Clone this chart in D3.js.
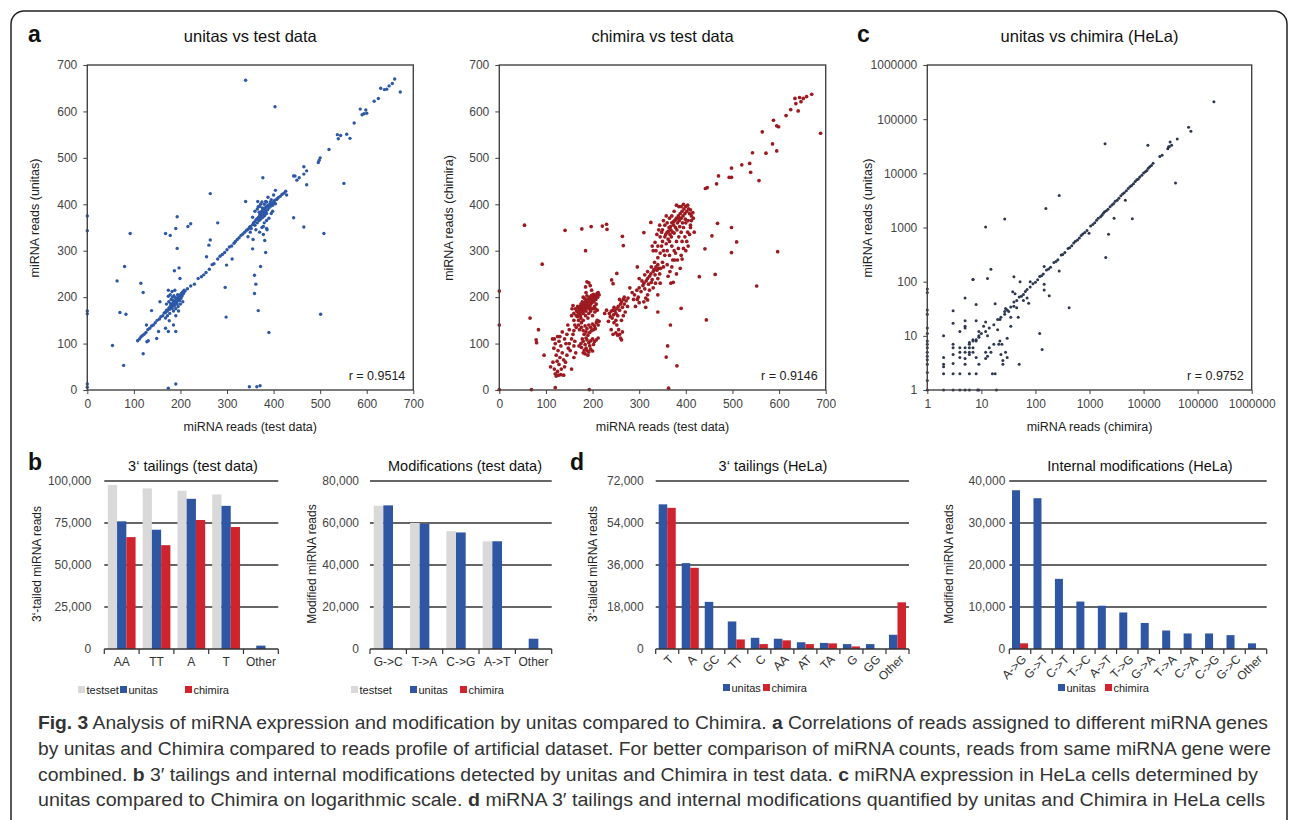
<!DOCTYPE html>
<html>
<head>
<meta charset="utf-8">
<script src="https://cdn.jsdelivr.net/npm/d3@7"></script>
<style>
body { margin: 0; background: #fff; }
text { font-family: "Liberation Sans", Arial, Helvetica, sans-serif; }
</style>
</head>
<body>
<svg id="fig" width="1292" height="820"></svg>
<script>
// ---- data ----
// panel a, left: [test data reads, unitas reads]
var unitasVsTest = [
  [340,667],[403,610],[660,670],[672,642],[655,660],[648,655],[643,648],[638,647],[630,650],[625,628],[616,622],
  [586,605],[594,595],[598,603],[590,593],[600,596],[573,575],[537,550],[539,541],[544,548],[557,551],[564,542],
  [519,518],[500,500],[496,490],[498,495],[443,461],[446,461],[450,452],[455,457],[465,481],[465,465],[471,472],
  [471,442],[551,445],[443,371],[465,351],[508,337],[501,163],[390,124],[355,304],[356,324],[359,247],[362,228],
  [359,208],[367,171],[372,266],[383,296],[381,322],[378,352],[296,221],[298,157],[340,406],[366,406],[377,457],
  [264,423],[280,360],[264,323],[261,312],[256,287],[311,282],[299,269],[193,373],[190,348],[178,333],[168,337],
  [193,305],[216,352],[222,358],[92,337],[80,266],[64,235],[70,167],[83,163],[54,96],[78,53],[120,78],[115,230],
  [120,210],[0,375],[0,343],[0,170],[0,164],[0,13],[0,6],[174,4],[190,13],[348,7],[364,7],[371,9],[174,126],
  [190,126],[176,149],[185,140],[153,126],[131,106],[128,104],[149,111],[168,133],[174,202],[187,257],[197,263],
  [174,215],[199,240],[138,171],[156,190],[127,140],
  [108,106],[112,110],[115,114],[118,117],[122,120],[126,124],[130,130],[134,133],[138,138],[142,140],[146,145],
  [150,150],[155,153],[158,158],[162,160],[165,166],[168,167],[170,172],[172,170],[175,176],[177,174],[178,180],
  [180,178],[181,183],[183,181],[184,186],[185,188],[186,184],[187,190],[188,186],[189,192],[190,189],[191,195],
  [192,188],[193,198],[194,193],[195,196],[196,200],[197,194],[198,203],[199,199],[200,205],[201,197],[202,208],
  [203,202],[204,210],[205,206],[206,212],[207,209],[208,215],[210,213],[175,190],[180,195],[183,200],[185,170],
  [190,175],[195,180],[178,205],[182,212],[188,215],[200,185],[205,190],[170,185],[172,160],[190,160],[196,170],
  [186,203],[177,165],[168,155],[182,176],[187,181],[193,185],[198,192],[179,186],[184,193],[189,199],[194,205],
  [215,218],[222,224],[230,228],[238,240],[245,244],[250,248],[255,253],[262,260],[268,270],[272,272],[280,282],
  [285,288],[290,292],[295,296],[300,302],[305,308],[310,310],[315,316],[318,320],[322,324],[326,328],[330,333],
  [334,336],[338,340],[342,344],[345,346],[348,350],[350,352],[352,348],[355,356],[357,360],[359,362],[360,355],
  [362,366],[364,368],[365,360],[366,370],[368,372],[369,365],[370,375],[371,378],[372,368],[373,380],[374,384],
  [375,377],[376,386],[377,372],[378,388],[379,382],[380,390],[381,376],[382,392],[383,385],[384,394],[385,380],
  [386,396],[387,388],[388,398],[390,392],[392,400],[394,396],[396,402],[398,398],[400,405],[402,408],[404,401],
  [406,410],[408,412],[410,414],[414,417],[418,421],[422,424],[426,428],[428,420],[365,390],[370,395],[375,405],
  [380,400],[385,405],[395,410],[360,385],[375,350],[380,360],[385,365],[390,370],[395,380],[398,385],[370,340],
  [362,345],[355,372],[350,340],[345,330],[385,348],[378,335],[386,345],[393,405],[400,420],[404,430],[388,415],
  [383,406],[372,400],[367,395],[376,392],[381,384],[369,383],[374,371],[379,378]
];

// panel a, middle: [test data reads, chimira reads]
var chimiraVsTest = [
  [670,637],[659,632],[652,628],[644,630],[634,628],[647,621],[636,617],[641,601],[625,604],[615,591],[689,553],
  [588,581],[595,569],[599,567],[564,556],[586,530],[595,515],[572,510],[543,511],[520,485],[537,488],[539,469],
  [557,451],[498,478],[493,458],[498,458],[470,461],[466,444],[446,436],[442,434],[468,359],[456,332],[498,350],
  [509,319],[498,296],[597,298],[441,304],[429,244],[463,249],[552,224],[444,151],[390,176],[367,140],[361,95],
  [358,71],[381,52],[363,4],[54,355],[92,271],[141,344],[177,347],[197,352],[185,300],[221,353],[230,357],
  [231,346],[264,331],[266,311],[241,237],[244,229],[252,251],[0,213],[0,140],[0,1],[69,1],[120,5],[193,1],
  [66,155],[84,130],[79,108],[80,102],[96,75],[325,361],[310,339],[296,265],[318,194],[314,178],[340,168],
  [165,160],[168,158],[170,163],[172,165],[174,160],[176,168],[178,170],[180,165],[182,172],[184,175],[186,170],
  [188,178],[190,180],[192,175],[194,183],[196,185],[198,188],[200,192],[202,195],[204,198],[206,202],[208,205],
  [210,208],[212,210],[200,200],[196,195],[192,190],[188,186],[184,182],[180,178],[176,174],[172,172],[168,168],
  [166,170],[170,176],[174,180],[178,184],[182,188],[186,192],[190,196],[194,200],[198,204],[202,206],[192,165],
  [196,170],[200,175],[204,180],[208,185],[185,160],[175,155],[170,150],[180,150],[190,155],[200,160],[205,168],
  [210,172],[178,190],[183,197],[188,203],[175,185],[180,200],[186,210],[188,233],[192,231],[185,222],[195,225],
  [168,180],[163,175],[160,165],[198,215],[203,190],[207,195],[211,200],[214,205],[196,177],[206,175],
  [172,130],[176,135],[180,128],[184,138],[188,132],[192,140],[196,135],[200,142],[204,138],[208,145],[212,140],
  [182,120],[186,125],[190,118],[194,124],[198,128],[202,130],[206,132],[176,145],[170,140],[165,135],[160,128],
  [214,148],[210,150],[175,100],[180,105],[184,98],[188,108],[192,102],[196,106],[200,110],[204,104],[208,108],
  [212,112],[186,112],[178,110],[171,95],[194,95],[202,98],[180,80],[184,78],[188,85],[192,82],[196,88],
  [200,84],[186,90],[176,92],[190,75],[182,86],
  [110,50],[115,60],[118,45],[120,35],[122,30],[125,40],[128,55],[130,70],[120,100],[118,110],[125,115],
  [128,105],[132,95],[135,80],[138,65],[140,50],[142,60],[145,75],[148,90],[150,100],[152,85],[155,110],
  [158,120],[160,95],[162,105],[145,120],[140,110],[135,125],[130,115],[126,85],[122,75],[114,110],[117,90],
  [124,62],[133,45],[138,32],[155,45],[160,70],[164,80],[150,130],[147,140],[143,100],[127,32],[132,33],
  [160,150],[155,160],[162,140],[156,175],[158,182],
  [242,155],[245,162],[248,170],[250,165],[252,175],[255,180],[258,172],[260,185],[262,190],[264,178],[266,195],
  [268,200],[258,195],[254,160],[250,150],[246,145],[252,140],[256,130],[258,120],[260,112],[262,108],[264,125],
  [262,150],[266,160],[270,168],[244,172],[240,170],[236,165],[238,158],[246,178],[240,130],[244,120],[254,118],
  [250,123],[234,148],[230,172],[226,165],[268,185],[272,192],[275,180],
  [285,210],[290,205],[295,215],[298,200],[300,220],[304,212],[308,225],[310,230],[312,218],[315,235],[318,240],
  [320,228],[322,245],[325,250],[328,238],[330,255],[332,260],[334,248],[336,265],[338,258],[340,270],[342,262],
  [326,232],[322,215],[318,205],[314,198],[310,190],[330,220],[335,230],[340,240],[344,250],[306,235],[312,248],
  [318,255],[326,265],[333,275],[300,240],[296,195],[288,195],[280,220],[276,198],[292,180],[300,188],[345,230],
  [340,205],
  [340,285],[345,295],[348,310],[350,320],[352,300],[355,330],[358,315],[360,340],[362,325],[364,350],[366,335],
  [368,345],[370,360],[372,340],[374,355],[376,365],[378,350],[380,370],[382,360],[384,375],[386,365],[388,380],
  [390,370],[392,385],[394,375],[396,390],[398,380],[400,395],[402,385],[404,398],[406,390],[408,380],[410,388],
  [412,375],[415,382],[350,345],[355,355],[360,360],[345,330],[348,340],[365,320],[370,310],[375,300],[380,320],
  [385,330],[390,340],[395,350],[400,360],[405,365],[410,355],[360,300],[355,290],[350,275],[346,262],[352,265],
  [365,290],[372,280],[378,295],[384,305],[392,320],[398,330],[404,340],[410,350],[340,310],[336,300],[334,318],
  [342,345],[338,335],[330,300],[328,310],[370,375],[375,385],[365,370],[385,395],[395,400],[380,398],[390,395],
  [358,375],[352,365],[344,355],[370,265],[376,280],[360,270],[366,255],[373,232],[368,230],[390,290],[395,305],
  [402,320],[408,335],[405,310],[400,300],[416,370],[412,365],[418,340],[382,280],[388,262],[392,282],[380,250],
  [362,245],[367,352],[373,362],[379,368],[385,372],[357,335],[363,342],[369,330],[375,338],[381,345],[387,352],
  [393,360],[399,368]
];

// panel c: [chimira reads, unitas reads], HeLa
var helaPts = [
  [12,12],[14,14],[17,16],[20,20],[23,22],[27,28],[30,30],[35,34],[40,42],[45,45],[50,52],[55,54],[60,58],[65,66],
  [70,72],[80,80],[90,92],[100,98],[110,108],[120,125],[130,128],[140,138],[160,165],[175,172],[190,185],[220,225],
  [240,236],[260,255],[300,310],[320,318],[350,345],[400,410],[430,425],[470,460],[510,520],[550,560],[600,590],
  [650,640],[700,710],[750,760],[820,810],[900,880],[1050,1070],[1150,1140],[1250,1230],[1350,1360],[1450,1480],
  [1600,1580],[1700,1690],[1800,1830],[1900,1950],[2050,2040],[2200,2180],[2400,2420],[2600,2600],[2800,2770],
  [3000,3050],[3250,3200],[3500,3450],[3800,3850],[4100,4150],[4400,4380],[4800,4750],[5200,5250],[5600,5650],
  [6000,5950],[6500,6400],[7000,7100],[7500,7600],[8000,7900],[8500,8600],[9300,9200],[10000,10100],[10800,10700],
  [11500,11300],[12200,12400],[13000,13200],[14000,13900],[15000,15300],[20000,20500],[22000,21500],[28000,28500],
  [30000,31000],[33000,33000],[42000,43000],
  [200000,210000],[68000,71000],[75000,60000],[31000,38000],[29000,31000],[1940,35000],[12000,33000],[39000,6600],
  [4600,3200],[6200,1450],[2850,1480],[2250,750],[980,780],[2000,280],[275,3900],[156,2250],[27,1440],[12,1020],
  [15,170],[13,115],[7,110],[40,123],[52,100],[145,190],[145,90],[145,70],[180,55],[275,158],[420,33],[120,11],
  [133,5.6],[50,3],[25,3.5],
  [1,1],[2,1],[3,1],[4,1],[5,1],[6,1],[8.5,1],[9,1],[19,1],
  [1,73],[1,63],[1,30],[1,25],[1,14],[1,11],[1,8],[1,7],[1,6],[1,5],[1,4.2],[1,3.6],[1,3],[1,2.1],[1,1.5],
  [2,10],[2,4],[2,3],[2,2.7],[2,2],
  [3,29],[3,17],[3,7],[3,6],[3,4.5],[3,3.1],[3,2],
  [4,12],[4,6],[4,5],[4,4],[4,2],
  [5,50],[5,19],[5,15],[5,14],[5,6],[5,5],[5,3.8],[5,3],
  [6,7],[6,6],[6,5],[6,4.5],[6,2],
  [7,110],[7,8.5],[7,6],[7,5],
  [8,38],[8,19],[8,8],[8,4],[8,2],
  [9,12],[9,9.4],[9,3],
  [12,18],[11,15],[13,10],[12,5],[12,3.8],[13,4.2],[15,5],[14,6],[16,2],[18,2],[17,7],[18,39],[20,13],[21,7],
  [22,8],[24,7],[23,4.5],[25,3],[22,20],[28,5],[30,9],[30,4],[35,15],[35,22],[40,35],[45,33],[48,22],[42,60],
  [38,65],[60,45],[70,50],[75,40],[80,100],[27,25],[28,32],[32,28],[10,11],[9,10],[8,8.5],[7,8],[6,7.5]
];

// panel b: test data bars
var seriesB = ["testset", "unitas", "chimira"];
var tailCatsTest = ["AA", "TT", "A", "T", "Other"];
var tailTestset = [97600, 95600, 94200, 92000, 0];
var tailUnitas = [76000, 71000, 89400, 85200, 2000];
var tailChimira = [66600, 61800, 76800, 72600, 0];
var tailTicks = [0, 25000, 50000, 75000, 100000];

var modCatsTest = ["G->C", "T->A", "C->G", "A->T", "Other"];
var modTestset = [68200, 60000, 56100, 51300, 0];
var modUnitas = [68400, 59600, 55500, 51300, 4900];
var modChimira = [0, 0, 0, 0, 0];
var modTicks = [0, 20000, 40000, 60000, 80000];

// panel d: HeLa bars
var seriesD = ["unitas", "chimira"];
var tailCatsHela = ["T", "A", "GC", "TT", "C", "AA", "AT", "TA", "G", "GG", "Other"];
var tailHelaUnitas = [62000, 36800, 20200, 11800, 4800, 4400, 2900, 2600, 2100, 2100, 6100];
var tailHelaChimira = [60500, 34800, 0, 4100, 2100, 3700, 2100, 2400, 1100, 0, 20000];
var tailHelaTicks = [0, 18000, 36000, 54000, 72000];

var modCatsHela = ["A->G", "G->T", "C->T", "T->C", "A->T", "T->G", "G->A", "T->A", "C->A", "C->G", "G->C", "Other"];
var modHelaUnitas = [37800, 35900, 16700, 11300, 10300, 8700, 6200, 4400, 3700, 3700, 3300, 1350];
var modHelaChimira = [1350, 0, 0, 0, 0, 0, 0, 0, 0, 0, 0, 0];
var modHelaTicks = [0, 10000, 20000, 30000, 40000];

var linTicks = [0, 100, 200, 300, 400, 500, 600, 700];
var logTicks = [1, 10, 100, 1000, 10000, 100000, 1000000];

var colors = { testset: "#d9d9d9", unitas: "#2f56a3", chimira: "#cf242d" };

var svg = d3.select("#fig");

// frame
svg.append("rect").attr("x", 11).attr("y", 11).attr("width", 1276).attr("height", 840)
  .attr("rx", 13).attr("fill", "none").attr("stroke", "#222").attr("stroke-width", 1.5);

function panelLetter(t, x, y) {
  svg.append("text").attr("x", x).attr("y", y).attr("font-size", 23).attr("font-weight", "bold")
    .attr("fill", "#111").text(t);
}

function styleAxis(ax) {
  ax.select(".domain").remove();
  ax.selectAll(".tick line").attr("stroke", "#444").attr("stroke-width", 1);
  ax.selectAll(".tick text").attr("fill", "#444").attr("font-size", 12)
    .style("font-family", '"Liberation Sans", Arial, sans-serif');
}

function scatter(o) {
  var g = svg.append("g");
  var x, y;
  if (o.log) {
    x = d3.scaleLog().domain([1, 1e6]);
    y = d3.scaleLog().domain([1, 1e6]);
  } else {
    x = d3.scaleLinear().domain([0, 700]);
    y = d3.scaleLinear().domain([0, 700]);
  }
  x.range([o.x0, o.x1]);
  y.range([o.y1, o.y0]);
  var ticks = o.log ? logTicks : linTicks;
  var fmt = function (d) { return String(d); };

  var ax = g.append("g").attr("transform", "translate(0," + o.y1 + ")")
    .call(d3.axisBottom(x).tickValues(ticks).tickFormat(fmt).tickSize(4).tickPadding(5));
  styleAxis(ax);
  var ay = g.append("g").attr("transform", "translate(" + o.x0 + ",0)")
    .call(d3.axisLeft(y).tickValues(ticks).tickFormat(fmt).tickSize(4).tickPadding(6));
  styleAxis(ay);

  g.append("g").selectAll("circle").data(o.pts).enter().append("circle")
    .attr("cx", function (d) { return x(d[0]); })
    .attr("cy", function (d) { return y(d[1]); })
    .attr("r", o.r).attr("fill", o.color);

  g.append("rect").attr("x", o.x0).attr("y", o.y0).attr("width", o.x1 - o.x0).attr("height", o.y1 - o.y0)
    .attr("fill", "none").attr("stroke", "#444").attr("stroke-width", 1.4);

  var cx = (o.x0 + o.x1) / 2;
  g.append("text").attr("x", cx).attr("y", 42).attr("text-anchor", "middle").attr("font-size", 16.5)
    .attr("fill", "#111").text(o.title);
  g.append("text").attr("x", cx).attr("y", 431).attr("text-anchor", "middle").attr("font-size", 12.5)
    .attr("fill", "#222").text(o.xlabel);
  g.append("text").attr("transform", "translate(" + o.ylx + ",218) rotate(-90)").attr("text-anchor", "middle")
    .attr("font-size", 12.5).attr("fill", "#222").text(o.ylabel);
  g.append("text").attr("x", o.x1 - 8).attr("y", o.y1 - 10).attr("text-anchor", "end").attr("font-size", 12.5)
    .attr("fill", "#222").text(o.r_text);
}

function bars(o) {
  var g = svg.append("g");
  var x = d3.scaleBand().domain(o.cats).range([o.x0, o.x1]).padding(0);
  var xs = d3.scaleBand().domain(o.series).range([0, x.bandwidth()]).paddingInner(0).paddingOuter(o.pad);
  var y = d3.scaleLinear().domain([0, o.ticks[o.ticks.length - 1]]).range([649, 481]);

  // gridlines
  g.append("g").selectAll("line").data(o.ticks.slice(1)).enter().append("line")
    .attr("x1", o.x0).attr("x2", o.x1)
    .attr("y1", function (d) { return y(d); }).attr("y2", function (d) { return y(d); })
    .attr("stroke", "#333").attr("stroke-width", 1.3);

  var ay = g.append("g").attr("transform", "translate(" + o.x0 + ",0)")
    .call(d3.axisLeft(y).tickValues(o.ticks).tickFormat(d3.format(",")).tickSize(0).tickPadding(o.gap));
  styleAxis(ay);

  o.series.forEach(function (s) {
    g.append("g").selectAll("rect").data(o.values[s]).enter().append("rect")
      .attr("x", function (d, i) { return x(o.cats[i]) + xs(s); })
      .attr("width", xs.bandwidth())
      .attr("y", function (d) { return y(d); })
      .attr("height", function (d) { return y(0) - y(d); })
      .attr("fill", colors[s]);
  });

  // baseline with tick marks at category boundaries
  g.append("line").attr("x1", o.x0).attr("x2", o.x1).attr("y1", y(0)).attr("y2", y(0))
    .attr("stroke", "#333").attr("stroke-width", 1.5);
  var bounds = o.cats.map(function (c) { return x(c); }).concat([o.x1]);
  g.append("g").selectAll("line").data(bounds).enter().append("line")
    .attr("x1", function (d) { return d; }).attr("x2", function (d) { return d; })
    .attr("y1", y(0)).attr("y2", y(0) + 5).attr("stroke", "#333").attr("stroke-width", 1.2);

  // category labels
  g.append("g").selectAll("text").data(o.cats).enter().append("text")
    .attr("font-size", 12).attr("fill", "#333")
    .attr("text-anchor", o.rotate ? "end" : "middle")
    .attr("transform", function (d) {
      var cx = x(d) + x.bandwidth() / 2;
      return o.rotate ? "translate(" + (cx + 4) + ",657) rotate(-45)" : "translate(" + cx + ",666)";
    })
    .attr("dy", o.rotate ? "0.35em" : 0)
    .text(function (d) { return d; });

  g.append("text").attr("x", o.tx).attr("y", 471).attr("text-anchor", "middle").attr("font-size", 14.5)
    .attr("fill", "#111").text(o.title);
  g.append("text").attr("transform", "translate(" + o.ylx + ",564) rotate(-90)").attr("text-anchor", "middle")
    .attr("font-size", 12).attr("fill", "#222").text(o.ylabel);

  // legend
  var lg = g.append("g").selectAll("g").data(o.series).enter().append("g")
    .attr("transform", function (d, i) { return "translate(" + o.legend[i] + ",0)"; });
  lg.append("rect").attr("x", 0).attr("y", o.ly - 8).attr("width", 7).attr("height", 7)
    .attr("fill", function (d) { return colors[d]; });
  lg.append("text").attr("x", 8.5).attr("y", o.ly).attr("font-size", 11).attr("fill", "#222")
    .text(function (d) { return d; });
}

scatter({ pts: unitasVsTest, x0: 87.3, x1: 413.3, y0: 65, y1: 390, color: "#2d58a7", r: 1.7,
  title: "unitas vs test data", xlabel: "miRNA reads (test data)", ylabel: "miRNA reads (unitas)", ylx: 39, r_text: "r = 0.9514" });
scatter({ pts: chimiraVsTest, x0: 499.3, x1: 825.7, y0: 65, y1: 390, color: "#9c1a20", r: 1.85,
  title: "chimira vs test data", xlabel: "miRNA reads (test data)", ylabel: "miRNA reads (chimira)", ylx: 453, r_text: "r = 0.9146" });
scatter({ pts: helaPts, log: true, x0: 927.3, x1: 1251.7, y0: 65, y1: 390, color: "#2c3850", r: 1.5,
  title: "unitas vs chimira (HeLa)", xlabel: "miRNA reads (chimira)", ylabel: "miRNA reads (unitas)", ylx: 872, r_text: "r = 0.9752" });

bars({ cats: tailCatsTest, series: seriesB, pad: 0.38, x0: 104.3, x1: 278.3, ticks: tailTicks, gap: 13,
  values: { testset: tailTestset, unitas: tailUnitas, chimira: tailChimira },
  title: "3‘ tailings (test data)", tx: 193, ylabel: "3‘-tailed miRNA reads", ylx: 41, legend: [78, 120, 185], ly: 694 });
bars({ cats: modCatsTest, series: seriesB, pad: 0.38, x0: 370, x1: 551.7, ticks: modTicks, gap: 11,
  values: { testset: modTestset, unitas: modUnitas, chimira: modChimira },
  title: "Modifications (test data)", tx: 465, ylabel: "Modified miRNA reads", ylx: 316, legend: [351, 410, 460], ly: 694 });
bars({ cats: tailCatsHela, series: seriesD, pad: 0.35, x0: 655.7, x1: 909, ticks: tailHelaTicks, gap: 12, rotate: true,
  values: { unitas: tailHelaUnitas, chimira: tailHelaChimira },
  title: "3‘ tailings (HeLa)", tx: 773, ylabel: "3‘-tailed miRNA reads", ylx: 597, legend: [723, 763], ly: 692 });
bars({ cats: modCatsHela, series: seriesD, pad: 0.34, x0: 1009.3, x1: 1266.7, ticks: modHelaTicks, gap: 4, rotate: true,
  values: { unitas: modHelaUnitas, chimira: modHelaChimira },
  title: "Internal modifications (HeLa)", tx: 1140, ylabel: "Modified miRNA reads", ylx: 953, legend: [1058, 1105], ly: 692 });

panelLetter("a", 28, 42);
panelLetter("c", 857, 42);
panelLetter("b", 28, 470);
panelLetter("d", 570, 470);

// caption
var captionLines = [
  [["Fig. 3", true], [" Analysis of miRNA expression and modification by unitas compared to Chimira. ", false], ["a", true],
   [" Correlations of reads assigned to different miRNA genes", false]],
  [["by unitas and Chimira compared to reads profile of artificial dataset. For better comparison of miRNA counts, reads from same miRNA gene were", false]],
  [["combined. ", false], ["b", true], [" 3′ tailings and internal modifications detected by unitas and Chimira in test data. ", false], ["c", true],
   [" miRNA expression in HeLa cells determined by", false]],
  [["unitas compared to Chimira on logarithmic scale. ", false], ["d", true],
   [" miRNA 3′ tailings and internal modifications quantified by unitas and Chimira in HeLa cells", false]]
];
var captionEnds = [1268, 1271, 1258, 1265];
var captionBase = [729, 755, 781, 806];

captionLines.forEach(function (parts, i) {
  var t = svg.append("text").attr("x", 38).attr("y", captionBase[i]).attr("font-size", 18).attr("fill", "#333")
    .style("font-family", '"Liberation Sans", Arial, sans-serif')
    .attr("textLength", captionEnds[i] - 38).attr("lengthAdjust", "spacingAndGlyphs");
  parts.forEach(function (p) {
    t.append("tspan").attr("font-weight", p[1] ? "bold" : "normal").text(p[0]);
  });
});
</script>
</body>
</html>
